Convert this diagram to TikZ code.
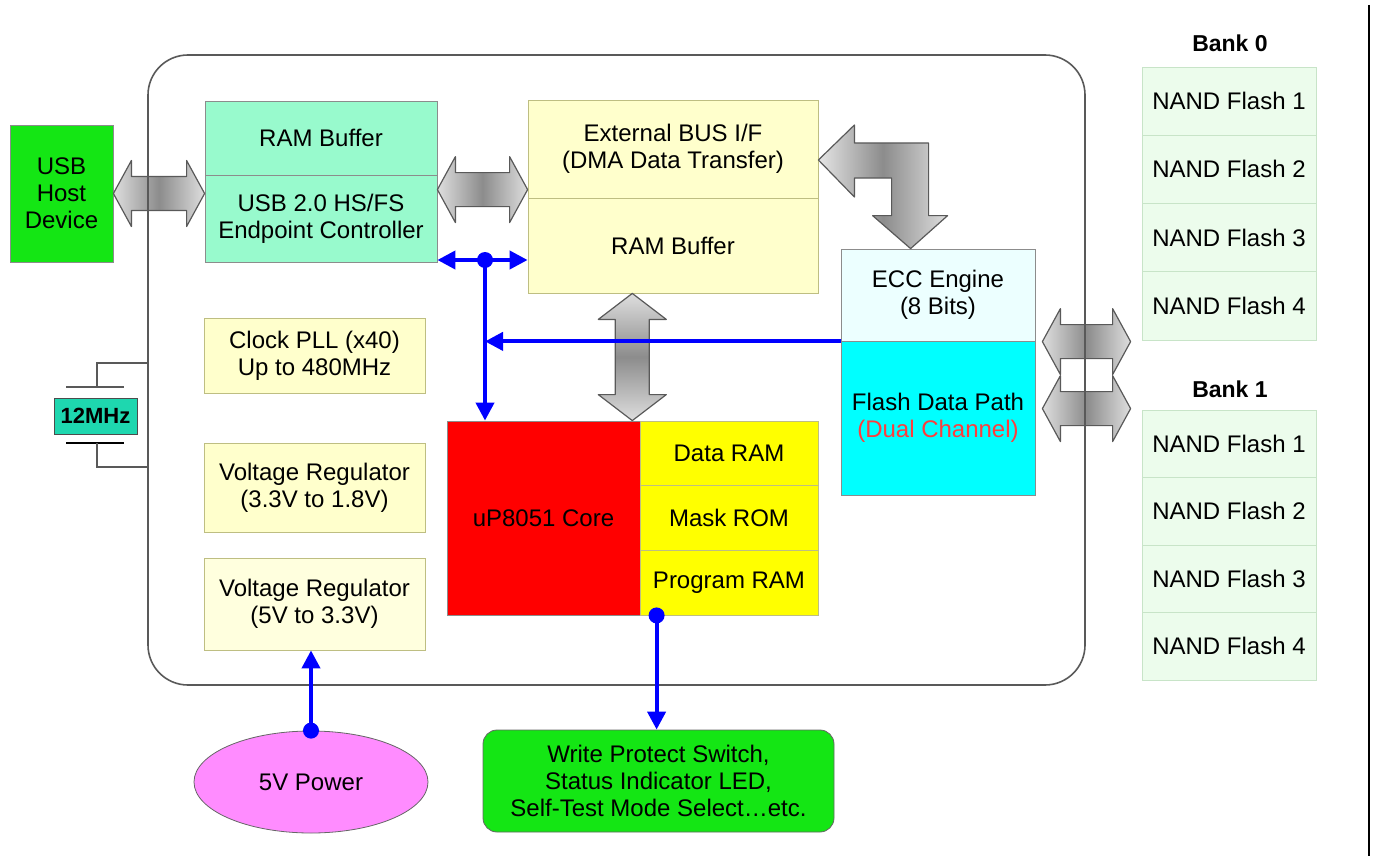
\documentclass[tikz,border=0pt]{standalone}
\usepackage{fontspec}
\setmainfont{Liberation Sans}
\usetikzlibrary{arrows.meta, calc, shapes.geometric}
\definecolor{hostgreen}{RGB}{20,230,20}
\definecolor{mint}{RGB}{152,250,205}
\definecolor{paleyellow}{RGB}{255,255,204}
\definecolor{paleryellow}{RGB}{255,255,222}
\definecolor{yedge}{RGB}{190,190,130}
\definecolor{coreRed}{RGB}{255,0,0}
\definecolor{memYellow}{RGB}{255,255,0}
\definecolor{pathCyan}{RGB}{0,255,255}
\definecolor{dualRed}{RGB}{255,60,60}
\definecolor{eccfill}{RGB}{236,255,255}
\definecolor{nandfill}{RGB}{236,252,236}
\definecolor{nandedge}{RGB}{200,228,200}
\definecolor{pwrpink}{RGB}{255,140,255}
\definecolor{xtalcol}{RGB}{30,215,175}
\definecolor{busend}{RGB}{222,222,222}
\definecolor{busmid}{RGB}{140,140,140}
\definecolor{busblue}{RGB}{0,0,255}
\newcommand{\lbl}{\fontsize{12}{13.5}\selectfont}

% fat bus arrows
\newcommand{\hbus}[2]{%
  \draw[fatbus, left color=busend, right color=busend, middle color=busmid]
    let \p1=#1, \p2=#2 in
    (\x1,\y1) -- (\x1+9pt,\y1+16.5pt) -- (\x1+9pt,\y1+8.5pt) -- (\x2-9pt,\y1+8.5pt)
    -- (\x2-9pt,\y1+16.5pt) -- (\x2,\y1) -- (\x2-9pt,\y1-16.5pt) -- (\x2-9pt,\y1-8.5pt)
    -- (\x1+9pt,\y1-8.5pt) -- (\x1+9pt,\y1-16.5pt) -- cycle;}
\newcommand{\vbus}[2]{%
  \draw[fatbus, top color=busend, bottom color=busend, middle color=busmid]
    let \p1=#1, \p2=#2 in
    (\x1,\y1) -- (\x1+17pt,\y1-13pt) -- (\x1+8.5pt,\y1-13pt) -- (\x1+8.5pt,\y2+13pt)
    -- (\x1+17pt,\y2+13pt) -- (\x1,\y2) -- (\x1-17pt,\y2+13pt) -- (\x1-8.5pt,\y2+13pt)
    -- (\x1-8.5pt,\y1-13pt) -- (\x1-17pt,\y1-13pt) -- cycle;}
\newcommand{\bentbus}[2]{%
  \draw[fatbus, left color=busend!80!white, right color=busend, middle color=busmid]
    let \p1=#1, \p2=#2 in
    (\x1,\y1) -- (\x1+18pt,\y1+17.5pt) -- (\x1+18pt,\y1+8.5pt) -- (\x2+9pt,\y1+8.5pt)
    -- (\x2+9pt,\y2+16.5pt) -- (\x2+18.5pt,\y2+16.5pt) -- (\x2,\y2) -- (\x2-19pt,\y2+16.5pt)
    -- (\x2-9.5pt,\y2+16.5pt) -- (\x2-9.5pt,\y1-9pt) -- (\x1+18pt,\y1-9pt)
    -- (\x1+18pt,\y1-18.5pt) -- cycle;}

\begin{document}
\begin{tikzpicture}[x=0.5pt, y=-0.5pt,
        >={Triangle[length=9pt,width=9pt]},
        box/.style={rectangle, draw=black!45, inner sep=0pt, align=center, font=\lbl},
        ybox/.style={box, draw=yedge, fill=paleyellow},
        nand/.style={box, draw=nandedge, fill=nandfill, minimum width=87pt},
        bus/.style={busblue, line width=2pt},
        fatbus/.style={draw=black!65, line width=0.6pt, line join=round},
        wire/.style={draw=black!65, line width=0.8pt},
    ]
    \useasboundingbox (0,0) rectangle (1376,856);

    \node[box, fill=hostgreen, minimum width=51.5pt, minimum height=68.5pt] (host) at (61.5,193.5) {USB\\Host\\Device};
    \node[box, fill=mint, minimum width=116pt, minimum height=37pt] (ubuf) at (321,138) {RAM Buffer};
    \node[box, fill=mint, minimum width=116pt, minimum height=43.5pt] (usbctl) at (321,218.5) {USB 2.0 HS/FS\\Endpoint Controller};
    \node[ybox, minimum width=145pt, minimum height=49pt] (extbus) at (673,149) {External BUS I/F\\(DMA Data Transfer)};
    \node[ybox, minimum width=145pt, minimum height=47.5pt] (rambuf) at (673,245.5) {RAM Buffer};
    \node[ybox, minimum width=110.5pt, minimum height=37.5pt] (pll) at (314.5,355.5) {Clock PLL (x40)\\Up to 480MHz};
    \node[ybox, minimum width=110.5pt, minimum height=44.5pt] (vreg1) at (314.5,487.5) {Voltage Regulator\\(3.3V to 1.8V)};
    \node[ybox, fill=paleryellow, minimum width=110.5pt, minimum height=46pt] (vreg2) at (314.5,604) {Voltage Regulator\\(5V to 3.3V)};
    \node[box, fill=coreRed, minimum width=96.5pt, minimum height=97pt] (core) at (543.5,518) {uP8051 Core};
    \node[ybox, fill=memYellow, minimum width=89pt, minimum height=32.33pt] (dram) at (729,453.3) {Data RAM};
    \node[ybox, fill=memYellow, minimum width=89pt, minimum height=32.33pt] (mrom) at (729,518) {Mask ROM};
    \node[ybox, fill=memYellow, minimum width=89pt, minimum height=32.33pt] (pram) at (729,582.7) {Program RAM};
    \node[box, fill=eccfill, minimum width=97pt, minimum height=46pt] (ecc) at (938,295) {ECC Engine\\(8 Bits)};
    \node[box, fill=pathCyan, minimum width=97pt, minimum height=77pt] (fdp) at (938,418) {Flash Data Path\\\textcolor{dualRed}{(Dual Channel)}};

    \node[font=\fontsize{11.5}{13}\selectfont\bfseries] (bank0) at (1230,43) {Bank 0};
    \foreach \i/\y in {1/101.1, 2/169.4, 3/237.6, 4/305.9}
        \node[nand, minimum height=34.1pt] (nandA\i) at (1229,\y) {NAND Flash \i};
    \node[font=\fontsize{11.5}{13}\selectfont\bfseries] (bank1) at (1230,389) {Bank 1};
    \foreach \i/\y in {1/443.75, 2/511.25, 3/578.75, 4/646.25}
        \node[nand, minimum height=33.75pt] (nandB\i) at (1229,\y) {NAND Flash \i};

    \node[box, draw=black!70, fill=xtalcol, font=\fontsize{11}{12}\selectfont\bfseries,
          minimum width=41.5pt, minimum height=18pt] (xtal) at (95.5,416) {12MHz};
    \node[ellipse, draw=black!60, fill=pwrpink, font=\lbl, inner sep=0pt,
          minimum width=117pt, minimum height=51pt] (pwr) at (311,782) {5V Power};
    \node[box, draw=black!60, fill=hostgreen, rounded corners=7pt,
          minimum width=175.5pt, minimum height=51pt] (wp) at (658.5,781)
          {Write Protect Switch,\\Status Indicator LED,\\Self-Test Mode Select…etc.};

    % data buses
    \coordinate (chA) at ($(fdp.north east)+(7,1)$);
    \coordinate (chB) at ($(fdp.north east)+(7,68)$);
    \hbus{(host.east)}{(host.east -| usbctl.west)}
    \hbus{($(usbctl.north east)+(0,15)$)}{($(rambuf.north west)+(0,-8)$)}
    \vbus{($(rambuf.south west)!0.36!(rambuf.south east)$)}{(core.north)}
    \bentbus{($(extbus.east)+(0,11)$)}{($(ecc.north west)+(70,0)$)}
    \hbus{(chA)}{($(chA -| nandA4.west)+(-11,0)$)}
    \hbus{(chB)}{($(chB -| nandB1.west)+(-11,0)$)}

    \node[draw=black!65, line width=0.8pt, rounded corners=20pt, inner sep=0pt,
          minimum width=468.5pt, minimum height=315pt] (chip) at (616.5,370) {};

    % crystal
    \draw[wire] (66,387) -- (124,387);
    \draw[wire] (97,387) |- (148,363);
    \draw[black, line width=1.2pt] (66,443) -- (124,443);
    \draw[wire] (97,443) |- (148,467);

    % control lines
    \coordinate (jn) at (485,260);
    \draw[bus, <->] (usbctl.east |- jn) -- (rambuf.west |- jn);
    \draw[bus, ->] (jn) -- (jn |- core.north);
    \draw[bus, ->] (ecc.south west) -- (jn |- ecc.south west);
    \fill[busblue] (jn) circle (4pt);
    \coordinate (pd) at ($(pram.south west)+(17,0)$);
    \draw[bus, ->] (pd) -- (pd |- wp.north);
    \fill[busblue] (pd) circle (4pt);
    \draw[bus, ->] (pwr.north) -- (pwr.north |- vreg2.south);
    \fill[busblue] (pwr.north) circle (4pt);

    \draw[black, line width=1pt] (1369,5) -- (1369,856);
\end{tikzpicture}
\end{document}
